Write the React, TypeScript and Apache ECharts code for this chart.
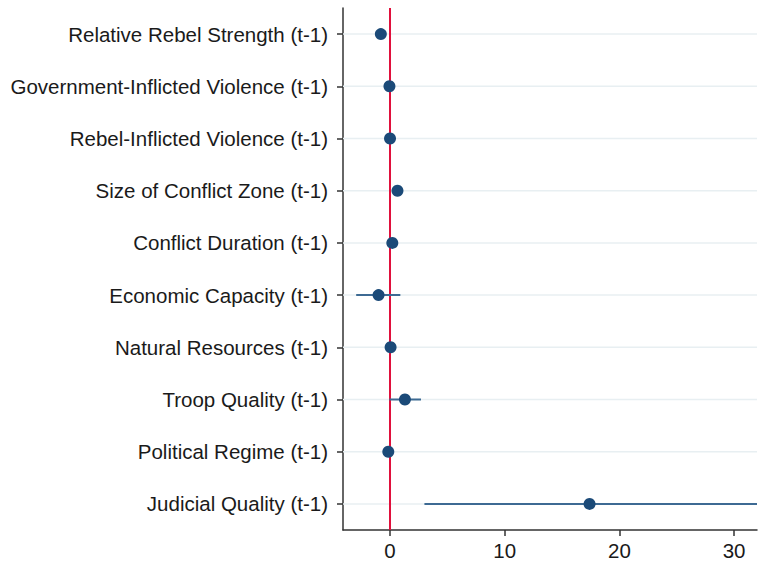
import React, { useEffect, useRef } from "react";
import * as echarts from "echarts";

const categories = [
  "Relative Rebel Strength (t-1)",
  "Government-Inflicted Violence (t-1)",
  "Rebel-Inflicted Violence (t-1)",
  "Size of Conflict Zone (t-1)",
  "Conflict Duration (t-1)",
  "Economic Capacity (t-1)",
  "Natural Resources (t-1)",
  "Troop Quality (t-1)",
  "Political Regime (t-1)",
  "Judicial Quality (t-1)",
];
const estimates = [-0.8, -0.05, 0.0, 0.65, 0.2, -1.0, 0.05, 1.3, -0.15, 17.4];
const lower = [-1.2, -0.2, -0.15, 0.4, 0.0, -2.95, -0.1, -0.05, -0.3, 3.0];
const upper = [-0.4, 0.1, 0.15, 0.9, 0.4, 0.9, 0.2, 2.7, 0.0, 32.0];
const xTicks = [0, 10, 20, 30];

const FONT = "'Liberation Sans', Arial, sans-serif";

export default function App() {
  const ref = useRef<HTMLDivElement>(null);
  useEffect(() => {
    if (!ref.current) return;
    const chart = echarts.init(ref.current, null, { renderer: "svg" });
    const ciData = categories.map((c, i) => [lower[i], upper[i], i]);
    chart.setOption({
      animation: false,
      backgroundColor: "#ffffff",
      grid: { left: 343, right: 2, top: 8, bottom: 37 },
      xAxis: {
        type: "value",
        min: -4.1,
        max: 32,
        axisLine: { show: true, onZero: false, lineStyle: { color: "#333", width: 1.5 } },
        axisTick: { show: true, length: 6, lineStyle: { color: "#333", width: 1.5 }, customValues: xTicks },
        axisLabel: { fontSize: 20.5, color: "#1a1a1a", fontFamily: FONT, margin: 10, customValues: xTicks },
        splitLine: { show: false },
      },
      yAxis: {
        type: "category",
        data: categories,
        inverse: true,
        axisLine: { show: true, onZero: false, lineStyle: { color: "#333", width: 1.5 } },
        axisTick: { show: true, alignWithLabel: true, length: 6, lineStyle: { color: "#333", width: 1.5 } },
        axisLabel: { fontSize: 20.5, color: "#1a1a1a", fontFamily: FONT, margin: 15 },
        splitLine: { show: false },
      },
      series: [
        {
          type: "custom",
          z: 1,
          silent: true,
          data: categories.map((c, i) => [i]),
          encode: { y: 0 },
          renderItem: (params: any, api: any) => {
            const cs = params.coordSys;
            const p = api.coord([0, api.value(0)]);
            return {
              type: "line",
              shape: { x1: cs.x, y1: p[1], x2: cs.x + cs.width, y2: p[1] },
              style: { stroke: "#e8eff2", lineWidth: 1.5 },
            };
          },
        },
        {
          type: "custom",
          z: 3,
          silent: true,
          data: ciData,
          encode: { x: [0, 1], y: 2 },
          renderItem: (params: any, api: any) => {
            const a = api.coord([api.value(0), api.value(2)]);
            const b = api.coord([api.value(1), api.value(2)]);
            return {
              type: "line",
              shape: { x1: a[0], y1: a[1], x2: b[0], y2: b[1] },
              style: { stroke: "#3d6a93", lineWidth: 2 },
            };
          },
        },
        {
          type: "scatter",
          z: 4,
          symbol: "circle",
          symbolSize: 12,
          itemStyle: { color: "#1b4a78", opacity: 1 },
          data: estimates.map((v, i) => [v, i]),
          markLine: {
            silent: true,
            symbol: ["none", "none"],
            label: { show: false },
            lineStyle: { color: "#e0103c", width: 2, type: "solid" },
            data: [{ xAxis: 0 }],
            z: 2,
          },
        },
      ],
    });
    return () => chart.dispose();
  }, []);
  return (
    <div
      ref={ref}
      style={{ position: "fixed", left: 0, top: 0, width: 759, height: 567 }}
    />
  );
}
